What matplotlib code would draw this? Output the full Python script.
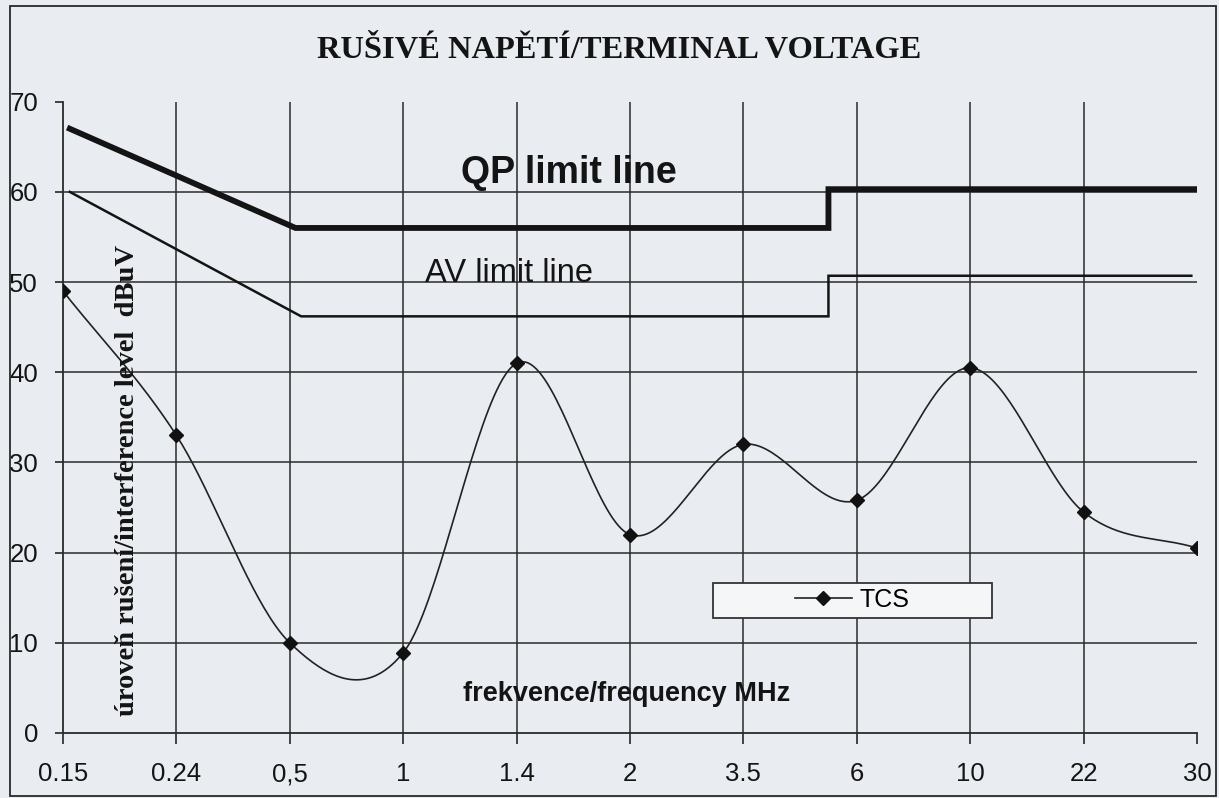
import numpy as np
import matplotlib
matplotlib.use("Agg")
import matplotlib.pyplot as plt
from matplotlib.patches import Rectangle

# categories on the x axis (MHz)
freq_labels = ['0.15', '0.24', '0,5', '1', '1.4', '2', '3.5', '6', '10', '22', '30']
# measured interference level, dBuV
tcs = [49, 33, 10, 8.9, 41, 22, 32, 25.8, 40.5, 24.5, 20.5]

# limit lines, positions given in category units
qp_pos = [0.06, 2.05, 6.75, 6.75, 9.98]
qp_level = [67, 56, 56, 60.3, 60.3]
av_pos = [0.06, 2.1, 6.75, 6.75, 9.95]
av_level = [60, 46.2, 46.2, 50.7, 50.7]

bg = '#e9edf1'
ink = '#141414'


def smooth(y, n=40):
    # Catmull-Rom style smoothing like a spreadsheet "smoothed line"
    y = np.asarray(y, float)
    x = np.arange(len(y), dtype=float)
    m = np.zeros_like(y)
    m[1:-1] = (y[2:] - y[:-2]) / 2
    m[0] = y[1] - y[0]
    m[-1] = y[-1] - y[-2]
    xs, ys = [], []
    for i in range(len(y) - 1):
        t = np.linspace(0, 1, n, endpoint=False)
        h00 = 2 * t**3 - 3 * t**2 + 1
        h10 = t**3 - 2 * t**2 + t
        h01 = -2 * t**3 + 3 * t**2
        h11 = t**3 - t**2
        xs.append(x[i] + t)
        ys.append(h00 * y[i] + h10 * m[i] + h01 * y[i + 1] + h11 * m[i + 1])
    xs.append([x[-1]])
    ys.append([y[-1]])
    return np.concatenate(xs), np.concatenate(ys)


fig = plt.figure(figsize=(12.19, 7.98), dpi=100, facecolor=bg)
ax = fig.add_axes([63 / 1219, 1 - 733 / 798, 1134 / 1219, (733 - 101.7) / 798])
ax.set_facecolor(bg)

x = np.arange(len(freq_labels))
ax.set_xlim(0, len(freq_labels) - 1)
ax.set_ylim(0, 70)

# grid
for v in range(10, 70, 10):
    ax.axhline(v, color='#3a3a3a', lw=1.2, zorder=1)
for xi in x[1:-1]:
    ax.axvline(xi, color='#2a2a2a', lw=1.1, zorder=1)

ax.plot(qp_pos, qp_level, color=ink, lw=4.2, solid_joinstyle='miter', zorder=3)
ax.plot(av_pos, av_level, color=ink, lw=1.8, solid_joinstyle='miter', zorder=3)

sx, sy = smooth(tcs)
ax.plot(sx, sy, color='#222222', lw=1.2, zorder=4)
ax.plot(x, tcs, ls='none', marker='D', ms=7.5, color='#111111', zorder=5)

ax.set_xticks(x)
ax.set_xticklabels(freq_labels)
ax.set_yticks(range(0, 71, 10))
ax.tick_params(axis='x', length=8, width=1.1, pad=13, labelsize=18.5, colors=ink)
ax.tick_params(axis='y', length=6, width=1.1, pad=12, labelsize=18.5, colors=ink)
for lab in ax.get_xticklabels() + ax.get_yticklabels():
    lab.set_family('Liberation Sans')
for s in ['top', 'right']:
    ax.spines[s].set_visible(False)
for s in ['left', 'bottom']:
    ax.spines[s].set_color('#2a2a2a')
    ax.spines[s].set_linewidth(1.3)

ax.text(4.46, 61.0, 'QP limit line', family='Liberation Sans', fontweight='bold',
        fontsize=27, ha='center', va='baseline', color=ink, zorder=6)
ax.text(3.93, 50.0, 'AV limit line', family='Liberation Sans',
        fontsize=23.5, ha='center', va='baseline', color=ink, zorder=6)
ax.text(4.97, 3.5, 'frekvence/frequency MHz', family='Liberation Sans', fontweight='bold',
        fontsize=19.5, ha='center', va='baseline', color=ink, zorder=6)
ax.text(0.0573, 0.40, 'úroveň rušení/interference level  dBuV', transform=ax.transAxes,
        family='Liberation Serif', fontweight='bold', fontsize=20.5, rotation=90,
        ha='center', va='center', color=ink, zorder=6)

fig.text(619 / 1219, 1 - 50 / 798, 'RUŠIVÉ NAPĚTÍ/TERMINAL VOLTAGE', family='Liberation Serif',
         fontweight='bold', fontsize=23.4, ha='center', va='center', color=ink)

# legend box
fig.patches.append(Rectangle((713 / 1219, 1 - 618 / 798), 279 / 1219, 35 / 798,
                             transform=fig.transFigure, facecolor='#f4f6f8',
                             edgecolor='#333333', lw=1.3, zorder=7))
handle, = ax.plot([], [], color='#222222', lw=1.2, marker='D', ms=7.5,
                  markerfacecolor='#111111', markeredgecolor='#111111')
leg = fig.legend([handle], ['TCS'], loc='center', bbox_to_anchor=(852 / 1219, 1 - 600 / 798),
                 frameon=False, handlelength=2.3, handletextpad=0.3,
                 prop={'family': 'Liberation Sans', 'size': 18})
leg.set_zorder(8)

# outer frame of the chart
fig.patches.append(Rectangle((10 / 1219, 2 / 798), 1206 / 1219, 790 / 798,
                             transform=fig.transFigure, fill=False,
                             edgecolor='#2a2a2a', lw=1.3))

fig.savefig('out.png', dpi=100, facecolor=bg)
